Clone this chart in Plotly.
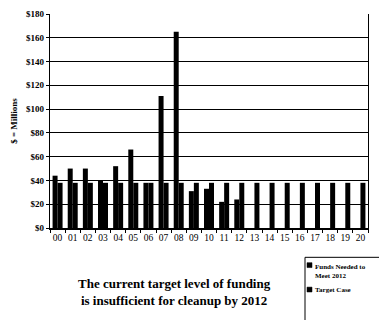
import plotly.graph_objects as go

# Fiscal years (two-digit labels) and funding series, $ millions
years = ["00", "01", "02", "03", "04", "05", "06", "07", "08", "09", "10",
         "11", "12", "13", "14", "15", "16", "17", "18", "19", "20"]
funds_needed = [44, 50, 50, 40, 52, 66, 38, 111, 165, 31, 33, 22, 24,
                None, None, None, None, None, None, None, None]
target_case = [38] * 21

y_ticks = [0, 20, 40, 60, 80, 100, 120, 140, 160, 180]
y_tick_labels = ["$0", "$20", "$40", "$60", "$80", "$100", "$120", "$140", "$160", "$180"]

serif = "Liberation Serif"

fig = go.Figure()
fig.add_trace(go.Bar(x=years, y=funds_needed, name="Funds Needed to Meet 2012",
                     marker=dict(color="#000000", line=dict(width=0))))
fig.add_trace(go.Bar(x=years, y=target_case, name="Target Case",
                     marker=dict(color="#000000", line=dict(width=0))))

fig.update_layout(
    width=379, height=320,
    margin=dict(l=50, r=11, t=9, b=92),
    paper_bgcolor="white", plot_bgcolor="white",
    barmode="group", bargap=0.34, bargroupgap=0.0,
    showlegend=False,
    font=dict(family=serif, color="black"),
)

fig.update_yaxes(
    range=[0, 180], tickmode="array", tickvals=y_ticks, ticktext=y_tick_labels,
    tickfont=dict(family=serif, size=9, weight="bold"),
    showgrid=True, gridcolor="black", gridwidth=1.2,
    showline=True, linecolor="black", linewidth=1.2, mirror=True,
    ticks="outside", ticklen=3, tickcolor="black",
    zeroline=False,
    title=dict(text="$ = Millions", font=dict(family=serif, size=9, weight="bold"),
               standoff=6),
)
fig.update_xaxes(
    tickfont=dict(family=serif, size=9.5),
    tickangle=0,
    showline=True, linecolor="black", linewidth=1.5,
    ticks="outside", ticklen=3, tickcolor="black", tickson="boundaries",
    showgrid=False,
)

# Caption under the chart
fig.add_annotation(
    xref="paper", yref="paper", x=(174 - 50) / 318, y=-(293 - 228) / 219,
    text="The current target level of funding<br>is insufficient for cleanup by 2012",
    showarrow=False, xanchor="center", yanchor="middle",
    font=dict(family=serif, size=13, weight="bold", color="black"),
    align="center",
)

# Legend box with square swatches
def px_x(px):
    return (px - 50) / 318

def px_y(py):
    return (228 - py) / 219

fig.add_shape(type="rect", xref="paper", yref="paper",
              x0=px_x(305), x1=px_x(385), y0=px_y(330), y1=px_y(258),
              line=dict(color="black", width=1), fillcolor="white")
for sy in (266, 291):
    fig.add_shape(type="rect", xref="paper", yref="paper",
                  x0=px_x(307), x1=px_x(312), y0=px_y(sy + 2.5), y1=px_y(sy - 2.5),
                  line=dict(color="black", width=0.5), fillcolor="black")
fig.add_annotation(xref="paper", yref="paper", x=px_x(313), y=px_y(262),
                   text="Funds Needed to<br>Meet 2012", showarrow=False,
                   xanchor="left", yanchor="top", align="left",
                   font=dict(family=serif, size=7, weight="bold", color="black"))
fig.add_annotation(xref="paper", yref="paper", x=px_x(313), y=px_y(291),
                   text="Target Case", showarrow=False,
                   xanchor="left", yanchor="middle", align="left",
                   font=dict(family=serif, size=7, weight="bold", color="black"))

fig.write_html("out.html")
